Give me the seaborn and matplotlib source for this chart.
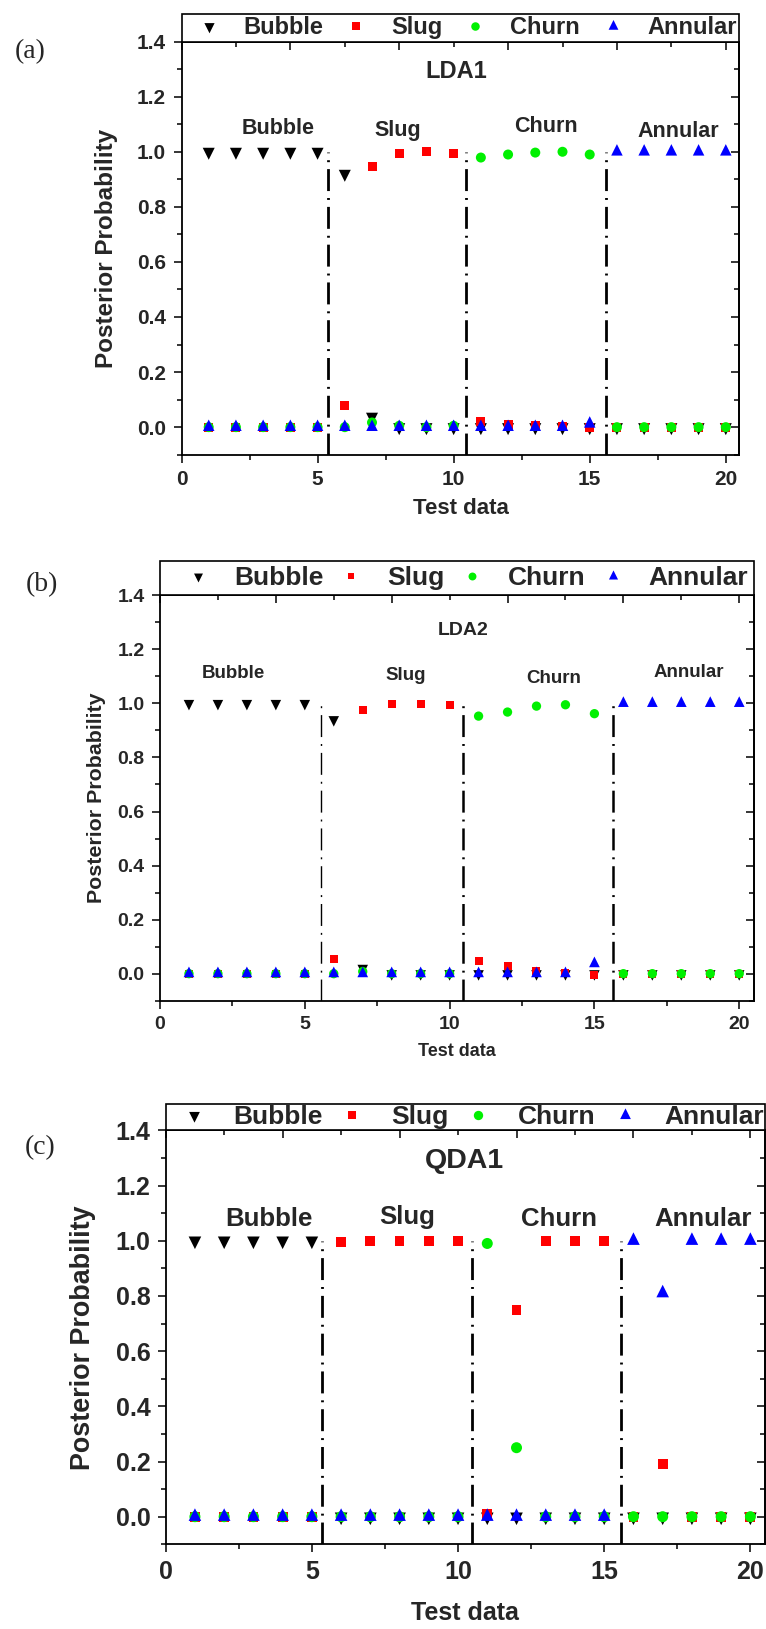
import numpy as np
import pandas as pd
import matplotlib
matplotlib.use("Agg")
import matplotlib.pyplot as plt
import seaborn as sns
from matplotlib.lines import Line2D
from matplotlib.ticker import MultipleLocator, FormatStrFormatter

# ---------------- data ----------------
test_idx = list(range(1, 21))
regimes = ["Bubble", "Slug", "Churn", "Annular"]

lda1_bubble = [1, 1, 1, 1, 1, 0.92, 0.038, 0, 0, 0, 0, 0, 0, 0, 0, 0, 0, 0, 0, 0]
lda1_slug = [0, 0, 0, 0, 0, 0.078, 0.947, 0.994, 1.0, 0.994, 0.022, 0.010, 0.005, 0.003, -0.003, 0, 0, 0, 0, 0]
lda1_churn = [0, 0, 0, 0, 0, 0, 0.017, 0.005, 0, 0.005, 0.979, 0.99, 0.997, 1.0, 0.99, 0, 0, 0, 0, 0]
lda1_annular = [0, 0, 0, 0, 0, 0, 0, 0, 0, 0, 0, 0, 0, 0, 0.012, 1, 1, 1, 1, 1]

lda2_bubble = [1, 1, 1, 1, 1, 0.94, 0.02, 0, 0, 0, 0, 0, 0, 0, 0, 0, 0, 0, 0, 0]
lda2_slug = [0, 0, 0, 0, 0, 0.054, 0.974, 0.997, 0.998, 0.995, 0.046, 0.029, 0.009, 0.004, -0.004, 0, 0, 0, 0, 0]
lda2_churn = [0, 0, 0, 0, 0, 0, 0.008, 0, 0, 0, 0.953, 0.968, 0.99, 0.995, 0.962, 0, 0, 0, 0, 0]
lda2_annular = [0, 0, 0, 0, 0, 0, 0, 0, 0, 0, 0, 0, 0, 0, 0.037, 1, 1, 1, 1, 1]

qda1_bubble = [1, 1, 1, 1, 1, 0, 0, 0, 0, 0, 0, 0, 0, 0, 0, 0, 0, 0, 0, 0]
qda1_slug = [0, 0, 0, 0, 0, 0.995, 1, 1, 1, 1, 0.01, 0.75, 1, 1, 1, 0, 0.19, 0, 0, 0]
qda1_churn = [0, 0, 0, 0, 0, 0, 0, 0, 0, 0, 0.99, 0.25, 0, 0, 0, 0, 0, 0, 0, 0]
qda1_annular = [0, 0, 0, 0, 0, 0, 0, 0, 0, 0, 0, 0, 0, 0, 0, 1, 0.81, 1, 1, 1]

boundaries_a = [5.39, 10.47, 15.6]
boundaries_b = [5.55, 10.47, 15.65]
boundaries_c = [5.35, 10.47, 15.59]

x_label = "Test data"
y_label = "Posterior Probability"

# ---------------- style ----------------
sns.set_theme(style="white")
plt.rcParams['font.family'] = ['Liberation Sans', 'DejaVu Sans']
plt.rcParams['font.weight'] = 'bold'
plt.rcParams['axes.labelweight'] = 'bold'

W, H = 766, 1629
fig = plt.figure(figsize=(W / 100, H / 100), dpi=100)

# centroid-centred triangles (Origin style)
tri_down = [(-0.9, 0.6), (0.9, 0.6), (0.0, -1.2), (-0.9, 0.6)]
tri_up = [(-0.9, -0.6), (0.9, -0.6), (0.0, 1.2), (-0.9, -0.6)]
markers = {"Bubble": tri_down, "Slug": "s", "Churn": "o", "Annular": tri_up}
# custom triangles are drawn at 0.75 of their nominal size
mfac = {"Bubble": 1 / 0.75, "Slug": 1.0, "Churn": 1.0, "Annular": 1 / 0.75}
colors = {"Bubble": "#000000", "Slug": "#ff0000", "Churn": "#00f000", "Annular": "#0000ff"}


def px2pt(p):
    return p / 1.3889


panels = [
    dict(series=(lda1_bubble, lda1_slug, lda1_churn, lda1_annular), title="LDA1", tag="(a)",
         bounds=boundaries_a, lws=[2.0, 2.0, 2.0],
         box=(181.5, 41.6, 739.4, 454.7), tagpos=(30, 52),
         tick_fs=15, xlab_fs=16, ylab_fs=17.5, leg_fs=17, title_fs=17, reg_fs=15.5,
         borderpad=0.1, hl=2.1, htp=0.42,
         mpx={"Bubble": 12, "Slug": 9, "Churn": 10, "Annular": 11.5},
         title_xy=(10.1, 1.29),
         reg_xy=[(3.54, 1.085), (7.94, 1.079), (13.4, 1.091), (18.24, 1.075)],
         ylab_x=107, xlab_y=509),
    dict(series=(lda2_bubble, lda2_slug, lda2_churn, lda2_annular), title="LDA2", tag="(b)",
         bounds=boundaries_b, lws=[1.0, 1.8, 1.8],
         box=(160, 595.3, 753.7, 1000.7), tagpos=(42, 585),
         tick_fs=14, xlab_fs=13, ylab_fs=15.4, leg_fs=19, title_fs=14, reg_fs=13.5,
         borderpad=0.2, hl=2.5, htp=0.1,
         mpx={"Bubble": 10.5, "Slug": 8, "Churn": 9.3, "Annular": 10.7},
         title_xy=(10.45, 1.27),
         reg_xy=[(2.54, 1.111), (8.5, 1.105), (13.6, 1.093), (18.25, 1.113)],
         ylab_x=97, xlab_y=1052),
    dict(series=(qda1_bubble, qda1_slug, qda1_churn, qda1_annular), title="QDA1", tag="(c)",
         bounds=boundaries_c, lws=[2.0, 2.0, 2.0],
         box=(165.7, 1130.3, 765, 1544.3), tagpos=(40, 1148),
         tick_fs=18, xlab_fs=18, ylab_fs=19.4, leg_fs=19, title_fs=20.5, reg_fs=18.6,
         borderpad=0.05, hl=2.05, htp=0.47,
         mpx={"Bubble": 12.6, "Slug": 9.8, "Churn": 11, "Annular": 12.6},
         title_xy=(10.22, 1.29),
         reg_xy=[(3.53, 1.079), (8.27, 1.087), (13.46, 1.079), (18.37, 1.079)],
         ylab_x=83, xlab_y=1613),
]

for p in panels:
    l, t, r, b = p["box"]
    ax = fig.add_axes([l / W, 1 - b / H, (r - l) / W, (b - t) / H])
    df = pd.DataFrame({
        x_label: test_idx * 4,
        y_label: [v for s in p["series"] for v in s],
        "Regime": [reg for reg in regimes for _ in test_idx],
    })
    for reg in regimes:
        sub = df[df["Regime"] == reg]
        sns.scatterplot(data=sub, x=x_label, y=y_label, marker=markers[reg],
                        color=colors[reg], s=(px2pt(p["mpx"][reg]) * mfac[reg]) ** 2,
                        linewidth=0, edgecolor="none", ax=ax, legend=False, zorder=3)

    # regime boundaries (dash-dot)
    for xb, lw in zip(p["bounds"], p["lws"]):
        pattern = [15.8 / lw, 5.0 / lw, 1.4 / lw, 5.0 / lw]
        ax.vlines(xb, -0.1, 1.0, colors="black", linestyles=[(0, pattern)], linewidth=lw, zorder=2)

    ax.set_xlim(0, 20.5)
    ax.set_ylim(-0.1, 1.4)
    ax.xaxis.set_major_locator(MultipleLocator(5))
    ax.xaxis.set_minor_locator(MultipleLocator(2.5))
    ax.yaxis.set_major_locator(MultipleLocator(0.2))
    ax.yaxis.set_minor_locator(MultipleLocator(0.1))
    ax.yaxis.set_major_formatter(FormatStrFormatter("%.1f"))
    ax.tick_params(which="both", direction="out", top=False, right=False,
                   bottom=True, left=True, width=1.1, color="black")
    ax.tick_params(which="major", length=6, labelsize=p["tick_fs"], pad=5)
    ax.tick_params(which="minor", length=3.5)
    for lab in ax.get_xticklabels() + ax.get_yticklabels():
        lab.set_fontweight("bold")
    for sp in ax.spines.values():
        sp.set_color("black")
        sp.set_linewidth(1.3)

    secx = ax.secondary_xaxis("top")
    secx.xaxis.set_major_locator(MultipleLocator(4))
    secx.xaxis.set_minor_locator(MultipleLocator(2))
    secx.tick_params(which="both", direction="in", labeltop=False, width=1.1, color="black")
    secx.tick_params(which="major", length=6)
    secx.tick_params(which="minor", length=3.5)
    secy = ax.secondary_yaxis("right")
    secy.yaxis.set_major_locator(MultipleLocator(0.2))
    secy.yaxis.set_minor_locator(MultipleLocator(0.1))
    secy.tick_params(which="both", direction="in", labelright=False, width=1.1, color="black")
    secy.tick_params(which="major", length=6)
    secy.tick_params(which="minor", length=3.5)
    for sa in (secx, secy):
        for sp in sa.spines.values():
            sp.set_color("black")
            sp.set_linewidth(1.3)

    ax.set_xlabel(x_label, fontsize=p["xlab_fs"], fontweight="bold", va="center")
    ax.set_ylabel(y_label, fontsize=p["ylab_fs"], fontweight="bold", va="center")
    ax.xaxis.set_label_coords(0.5, (b - p["xlab_y"]) / (b - t))
    ax.yaxis.set_label_coords((p["ylab_x"] - l) / (r - l), 0.5)

    ax.text(p["title_xy"][0], p["title_xy"][1], p["title"], ha="center", va="center",
            fontsize=p["title_fs"], fontweight="bold")
    for reg, (tx, ty) in zip(regimes, p["reg_xy"]):
        ax.text(tx, ty, reg, ha="center", va="center", fontsize=p["reg_fs"], fontweight="bold")

    handles = [Line2D([], [], linestyle="none", marker=markers[reg], color=colors[reg],
                      markersize=px2pt(p["mpx"][reg]) * mfac[reg] * 0.85, markeredgewidth=0)
               for reg in regimes]
    leg = ax.legend(handles, regimes, loc="lower left", bbox_to_anchor=(0, 1, 1, 0),
                    mode="expand", ncol=4, borderaxespad=0, frameon=True, fancybox=False,
                    edgecolor="black", framealpha=1, handlelength=p["hl"],
                    handletextpad=p["htp"], columnspacing=0.5,
                    borderpad=p["borderpad"], prop={"size": p["leg_fs"], "weight": "bold"})
    leg.get_frame().set_linewidth(1.2)

    fig.text(p["tagpos"][0] / W, 1 - p["tagpos"][1] / H, p["tag"], ha="center", va="center",
             fontsize=20, fontweight="normal", family=["Liberation Serif", "DejaVu Serif"])

fig.savefig("out.png", dpi=100)
